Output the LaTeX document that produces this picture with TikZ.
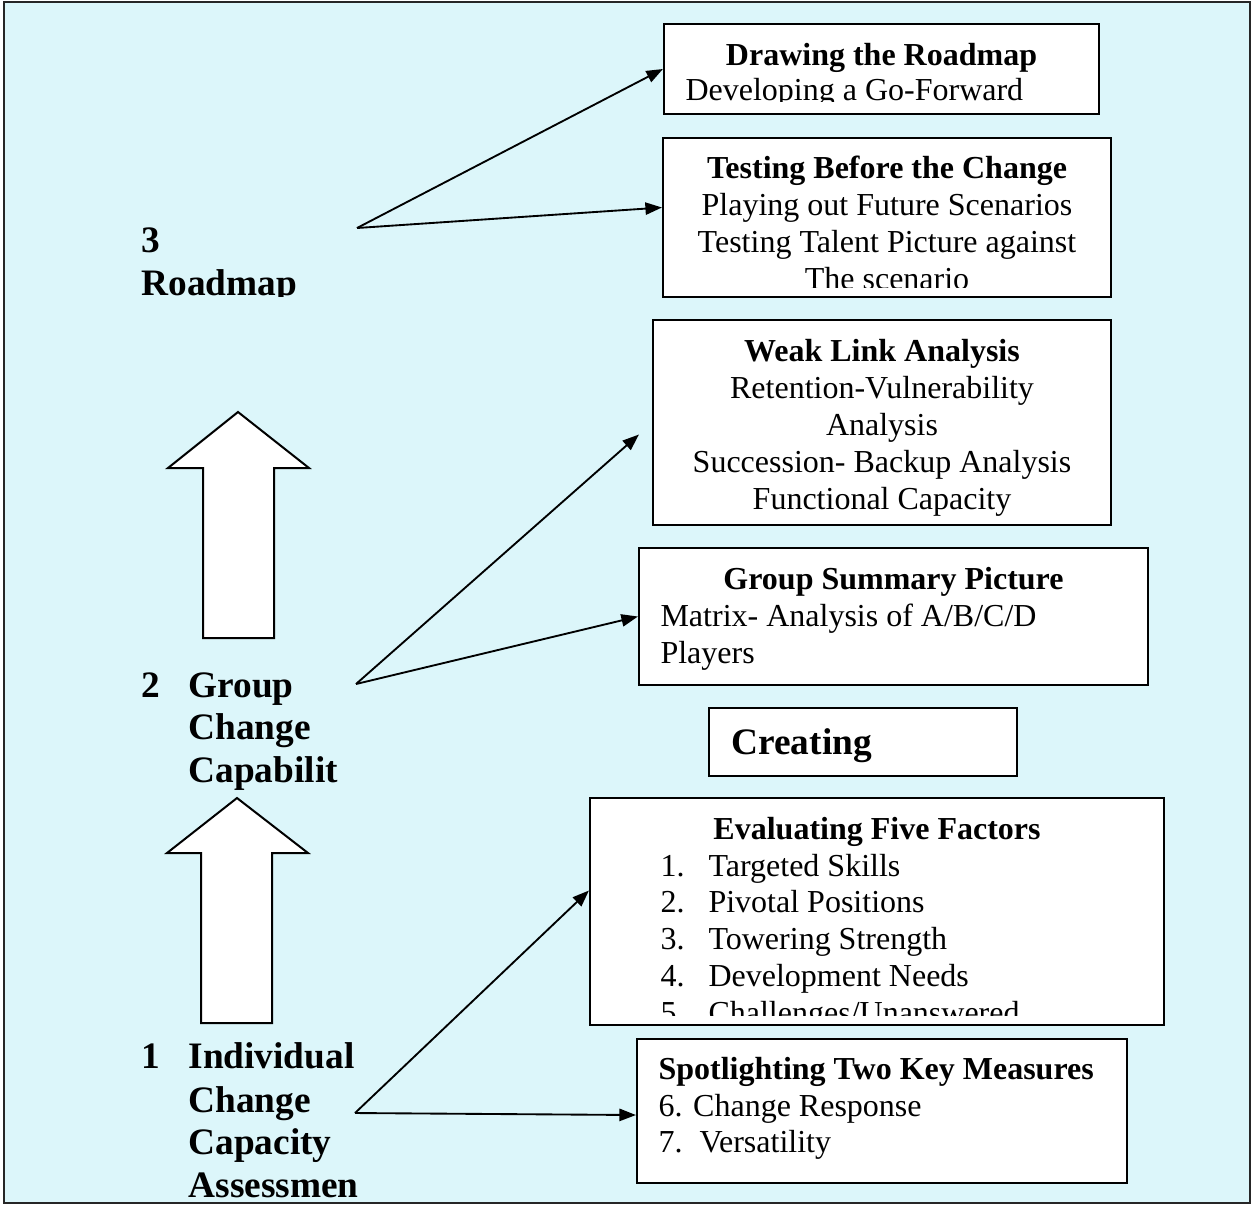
\documentclass[tikz,border=0pt]{standalone}
\usepackage{fontspec}
\setmainfont{Liberation Serif}
\usetikzlibrary{arrows.meta,fit,calc}
\definecolor{paleCyan}{RGB}{220,246,250}
\begin{document}
\begin{tikzpicture}[x=0.375pt,y=-0.375pt,
  box/.style={draw=black, line width=0.8pt, fill=white, inner sep=0pt},
  txt/.style={inner sep=0pt, font=\fontsize{12}{14}\selectfont},
  hd/.style={inner sep=0pt, font=\fontsize{12}{14}\selectfont\bfseries},
  lbl/.style={inner sep=0pt, font=\fontsize{14}{16}\selectfont\bfseries, anchor=base west},
  conn/.style={line width=0.7pt, -{Triangle[length=6.2pt,width=4.6pt]}},
  uparrow/.style={draw=black, line width=0.75pt, fill=white, line join=miter}]

\useasboundingbox (0,0) rectangle (1254,1205);
% page background and frame
\fill[white] (0,0) rectangle (1254,1205);
\fill[paleCyan] (4,2) rectangle (1250,1203);
\draw[black!85, line width=0.75pt] (4,2) rectangle (1250,1203);

% ---------- right-hand boxes ----------
% Drawing the Roadmap
\path (664,24) coordinate (b1nw) (1099,114) coordinate (b1se);
\node[box, fit=(b1nw)(b1se)] (b1) {};
\begin{scope}
  \clip (664,24) rectangle (1099,101);
  \node[hd, anchor=base] (b1h) at (b1.center |- 0,65) {Drawing the Roadmap};
  \node[txt, anchor=base west] (b1a) at (685,100) {Developing a Go-Forward};
\end{scope}

% Testing Before the Change
\path (663,138) coordinate (b2nw) (1111,297) coordinate (b2se);
\node[box, fit=(b2nw)(b2se)] (b2) {};
\begin{scope}
  \clip (663,138) rectangle (1111,287);
  \node[hd, anchor=base] (b2h) at (b2.center |- 0,178) {Testing Before the Change};
  \node[txt, anchor=base] (b2a) at (b2.center |- 0,215) {Playing out Future Scenarios};
  \node[txt, anchor=base] (b2b) at (b2.center |- 0,252) {Testing Talent Picture against};
  \node[txt, anchor=base] (b2c) at (b2.center |- 0,289) {The scenario};
\end{scope}

% Weak Link Analysis
\path (653,320) coordinate (b3nw) (1111,525) coordinate (b3se);
\node[box, fit=(b3nw)(b3se)] (b3) {};
\node[hd, anchor=base] (b3h) at (b3.center |- 0,361) {Weak Link Analysis};
\node[txt, anchor=base] (b3a) at (b3.center |- 0,398) {Retention-Vulnerability};
\node[txt, anchor=base] (b3b) at (b3.center |- 0,435) {Analysis};
\node[txt, anchor=base] (b3c) at (b3.center |- 0,472) {Succession- Backup Analysis};
\node[txt, anchor=base] (b3d) at (b3.center |- 0,509) {Functional Capacity};

% Group Summary Picture
\path (639,548) coordinate (b4nw) (1148,685) coordinate (b4se);
\node[box, fit=(b4nw)(b4se)] (b4) {};
\node[hd, anchor=base] (b4h) at (b4.center |- 0,589) {Group Summary Picture};
\node[txt, anchor=base west] (b4a) at (660,626) {Matrix- Analysis of A/B/C/D};
\node[txt, anchor=base west] (b4b) at (660,663) {Players};

% Creating
\path (709,708) coordinate (b5nw) (1017,776) coordinate (b5se);
\node[box, fit=(b5nw)(b5se)] (b5) {};
\node[lbl] (b5h) at (731,754) {Creating};

% Evaluating Five Factors
\path (590,798) coordinate (b6nw) (1164,1025) coordinate (b6se);
\node[box, fit=(b6nw)(b6se)] (b6) {};
\begin{scope}
  \clip (590,798) rectangle (1164,1015);
  \node[hd, anchor=base] (b6h) at (b6.center |- 0,839) {Evaluating Five Factors};
  \node[txt, anchor=base west] (b6n1) at (660,876) {1.};
  \node[txt, anchor=base west] (b6i1) at (708,876) {Targeted Skills};
  \node[txt, anchor=base west] (b6n2) at (660,912) {2.};
  \node[txt, anchor=base west] (b6i2) at (708,912) {Pivotal Positions};
  \node[txt, anchor=base west] (b6n3) at (660,949) {3.};
  \node[txt, anchor=base west] (b6i3) at (708,949) {Towering Strength};
  \node[txt, anchor=base west] (b6n4) at (660,986) {4.};
  \node[txt, anchor=base west] (b6i4) at (708,986) {Development Needs};
  \node[txt, anchor=base west] (b6n5) at (660,1023) {5.};
  \node[txt, anchor=base west] (b6i5) at (708,1023) {Challenges/Unanswered};
\end{scope}

% Spotlighting Two Key Measures
\path (637,1039) coordinate (b7nw) (1127,1183) coordinate (b7se);
\node[box, fit=(b7nw)(b7se)] (b7) {};
\node[hd, anchor=base west] (b7h) at (658,1079) {Spotlighting Two Key Measures};
\node[txt, anchor=base west] (b7a) at (658,1116) {6. Change Response};
\node[txt, anchor=base west] (b7n) at (658,1152) {7.};
\node[txt, anchor=base west] (b7b) at (699,1152) {Versatility};

% ---------- left-hand stage labels ----------
\begin{scope}
  \clip (100,200) rectangle (400,296);
  \node[lbl] (s3n) at (141,252) {3};
  \node[lbl] (s3a) at (141,295) {Roadmap};
\end{scope}

\node[lbl] (s2n) at (141,697) {2};
\node[lbl] (s2a) at (188,697) {Group};
\node[lbl] (s2b) at (188,739) {Change};
\node[lbl] (s2c) at (188,782) {Capabilit};

\node[lbl] (s1n) at (141,1068) {1};
\node[lbl] (s1a) at (188,1068) {Individual};
\node[lbl] (s1b) at (188,1112) {Change};
\node[lbl] (s1c) at (188,1154) {Capacity};
\begin{scope}
  \clip (100,1170) rectangle (400,1197);
  \node[lbl] (s1d) at (188,1197) {Assessmen};
\end{scope}

% ---------- block arrows between stages ----------
\draw[uparrow] (238,412) -- (309,468) -- (274,468) -- (274,638) -- (203,638)
  -- (203,468) -- (168,468) -- cycle;
\draw[uparrow] (237,798) -- (308,853) -- (272,853) -- (272,1023) -- (201,1023)
  -- (201,853) -- (167,853) -- cycle;

% ---------- connectors ----------
\coordinate (c3) at (357,228);
\coordinate (c2) at (356,684);
\coordinate (c1) at (355,1113);
\coordinate (w3) at ($(b3.west)+(-13,12)$);

\draw[conn] (c3) -- (b1.west);
\draw[conn] (c3) -- ($(b2.west)+(0,-10)$);
\draw[conn] (c2) -- (w3);
\draw[conn] (c2) -- (b4.west);
\draw[conn] (c1) -- ($(b6.west)+(0,-21)$);
\draw[conn] (c1) -- ($(b7.west)+(0,4)$);

\end{tikzpicture}
\end{document}
